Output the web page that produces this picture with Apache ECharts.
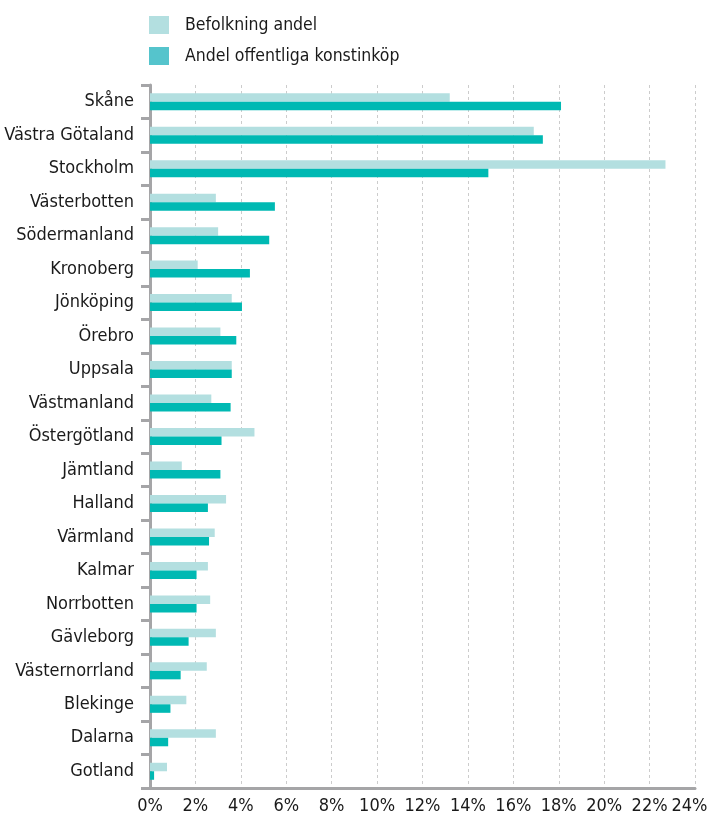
<!DOCTYPE html>
<html><head><meta charset="utf-8">
<script src="https://cdn.jsdelivr.net/npm/echarts@6/dist/echarts.min.js"></script>
<style>html,body{margin:0;padding:0;background:#fff;overflow:hidden}#c{width:710px;height:818px}</style>
</head><body><div id="c"></div>
<script>
const categories = ["Skåne","Västra Götaland","Stockholm","Västerbotten","Södermanland","Kronoberg","Jönköping","Örebro","Uppsala","Västmanland","Östergötland","Jämtland","Halland","Värmland","Kalmar","Norrbotten","Gävleborg","Västernorrland","Blekinge","Dalarna","Gotland"];
const befolkning = [13.2,16.9,22.7,2.9,3.0,2.1,3.6,3.1,3.6,2.7,4.6,1.4,3.35,2.85,2.55,2.65,2.9,2.5,1.6,2.9,0.75];
const offentliga = [18.1,17.3,14.9,5.5,5.25,4.4,4.05,3.8,3.6,3.55,3.15,3.1,2.55,2.6,2.05,2.05,1.7,1.35,0.9,0.8,0.18];
const seriesNames = ["Befolkning andel","Andel offentliga konstinköp"];
const xTicks = {min:0, max:24, interval:2};

const FONT = '"Liberation Sans Narrow","DejaVu Sans Condensed","Roboto",sans-serif';
const chart = echarts.init(document.getElementById('c'));
chart.setOption({
  animation:false,
  textStyle:{fontFamily:FONT},
  legend:{
    orient:'vertical', left:144, top:11, itemWidth:20, itemHeight:18, itemGap:13,
    textStyle:{fontFamily:FONT, fontSize:17.5, color:'#1a1a1a', padding:[0,0,0,11]},
    data:[
      {name:seriesNames[0], icon:'rect', itemStyle:{color:'#b3dfe0'}},
      {name:seriesNames[1], icon:'rect', itemStyle:{color:'#55c4cc'}}
    ]
  },
  grid:{left:150, right:15, top:85, bottom:30, containLabel:false, outerBoundsMode:'none'},
  xAxis:{
    type:'value', min:xTicks.min, max:xTicks.max, interval:xTicks.interval,
    axisLine:{show:true, lineStyle:{color:'#a5a5a7', width:3}},
    axisTick:{show:false},
    axisLabel:{
      formatter:function(v){ return v === xTicks.max ? '{last|' + v + '%}' : v + '%'; },
      rich:{last:{fontFamily:FONT, fontSize:18, color:'#1a1a1a', padding:[0,11,0,0]}},
      fontFamily:FONT, fontSize:18, color:'#1a1a1a', margin:9
    },
    splitLine:{show:true, lineStyle:{color:'#cccccc', type:[3,3], width:1}}
  },
  yAxis:{
    type:'category', data:categories, inverse:true,
    axisLine:{show:true, lineStyle:{color:'#a5a5a7', width:3}},
    axisTick:{show:true, alignWithLabel:false, length:9, lineStyle:{color:'#a5a5a7', width:3}},
    axisLabel:{fontFamily:FONT, fontSize:18, color:'#1a1a1a', margin:16},
    splitLine:{show:false}
  },
  series:[
    {name:seriesNames[0], type:'bar', data:befolkning, barWidth:8.5, barGap:'0%', itemStyle:{color:'#b3dfe0'}},
    {name:seriesNames[1], type:'bar', data:offentliga, barWidth:8.5, barGap:'0%', itemStyle:{color:'#00b9b3'}}
  ]
});
</script></body></html>
